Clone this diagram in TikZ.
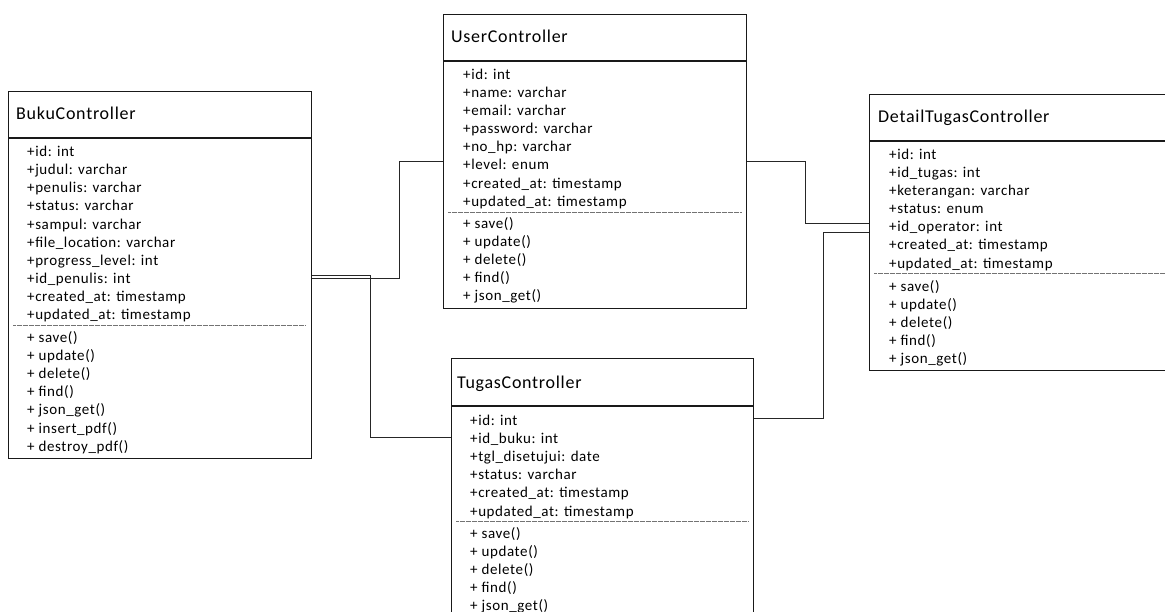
\documentclass[tikz,border=0pt]{standalone}
\usepackage{fontspec}
\setmainfont{Carlito}[LetterSpace=4]
\tikzset{
  box/.style={draw=black!90, line width=1.1pt, inner sep=0pt, anchor=north west, fill=none},
  boxline/.style={draw=black!90, line width=1.1pt},
  sep/.style={draw=black!55, line width=0.6pt, dash pattern=on 0.6pt off 0.6pt},
  conn/.style={draw=black!85, line width=0.9pt},
  hdr/.style={anchor=base west, inner sep=0pt, font=\fontsize{18pt}{20pt}\selectfont},
  rowtext/.style={anchor=base west, inner sep=0pt, font=\fontsize{15pt}{18pt}\selectfont},
}
\newcommand\classrows[4]{%
  \foreach \t [count=\i from 0] in {#4} {\node[rowtext, name=#1\i] at (#2, #3+\i*18.1) {\t};}}
\begin{document}
\begin{tikzpicture}[x=1pt, y=-1pt]
\useasboundingbox (0,0) rectangle (1165,612);
\clip (0,0) rectangle (1165,612);

% BukuController
\node[box, minimum width=303pt, minimum height=367pt] (buku) at (8,91) {};
\draw[boxline] (buku.west |- 0,138) -- (buku.east |- 0,138);
\draw[sep] (13,325) -- (305,325);
\node[hdr] (bukuh) at (16,120) {BukuController};
\classrows{ba}{27}{156.7}{+id: int,+judul: varchar,+penulis: varchar,+status: varchar,+sampul: varchar,+file\_location: varchar,+progress\_level: int,+id\_penulis: int,+created\_at: timestamp,+updated\_at: timestamp}
\classrows{bm}{27}{342.5}{+ save(),+ update(),+ delete(),+ find(),+ json\_get(),+ insert\_pdf(),+ destroy\_pdf()}

% UserController
\node[box, minimum width=303pt, minimum height=294pt] (user) at (443,14) {};
\draw[boxline] (user.west |- 0,61) -- (user.east |- 0,61);
\draw[sep] (448,212) -- (741,212);
\node[hdr] (userh) at (451,43) {UserController};
\classrows{ua}{463}{79.5}{+id: int,+name: varchar,+email: varchar,+password: varchar,+no\_hp: varchar,+level: enum,+created\_at: timestamp,+updated\_at: timestamp}
\classrows{um}{463}{228.5}{+ save(),+ update(),+ delete(),+ find(),+ json\_get()}

% DetailTugasController
\node[box, minimum width=310pt, minimum height=276pt] (detail) at (869,94) {};
\draw[boxline] (detail.west |- 0,141) -- (detail.east |- 0,141);
\draw[sep] (874,273) -- (1170,273);
\node[hdr] (detailh) at (878,123) {DetailTugasController};
\classrows{da}{889}{159.5}{+id: int,+id\_tugas: int,+keterangan: varchar,+status: enum,+id\_operator: int,+created\_at: timestamp,+updated\_at: timestamp}
\classrows{dm}{889}{291.5}{+ save(),+ update(),+ delete(),+ find(),+ json\_get()}

% TugasController
\node[box, minimum width=302pt, minimum height=270pt] (tugas) at (451,358) {};
\draw[boxline] (tugas.west |- 0,406) -- (tugas.east |- 0,406);
\draw[sep] (456,521) -- (748,521);
\node[hdr] (tugash) at (457,388.5) {TugasController};
\classrows{ta}{470}{425.5}{+id: int,+id\_buku: int,+tgl\_disetujui: date,+status: varchar,+created\_at: timestamp,+updated\_at: timestamp}
\classrows{tm}{470}{538.5}{+ save(),+ update(),+ delete(),+ find(),+ json\_get()}

% connectors
\draw[conn] (buku.east |- 0,278) -| (399,161) -- (user.west |- 0,161);
\draw[conn] (buku.east |- 0,275) -| (370,437) -- (tugas.west |- 0,437);
\draw[conn] (user.east |- 0,161) -| (805,223) -- (detail.west |- 0,223);
\draw[conn] (tugas.east |- 0,418) -| (823,232) -- (detail.west |- 0,232);
\end{tikzpicture}
\end{document}
